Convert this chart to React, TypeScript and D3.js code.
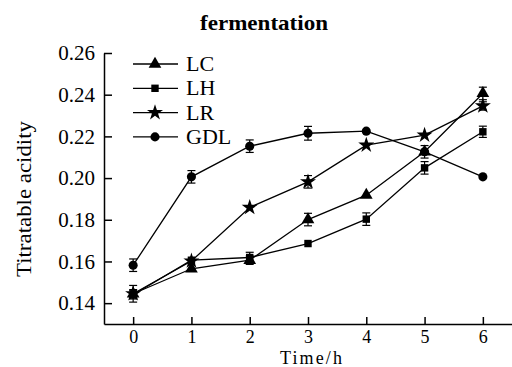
import React, { useEffect, useRef } from 'react';
import * as d3 from 'd3';

const times = [0, 1, 2, 3, 4, 5, 6];
const seriesNames = ['LC', 'LH', 'LR', 'GDL'];
const lcValues = [0.1445, 0.1565, 0.1606, 0.1801, 0.1918, 0.2126, 0.2406];
const lhValues = [0.1440, 0.1606, 0.1619, 0.1686, 0.1803, 0.2049, 0.2222];
const lrValues = [0.1445, 0.1602, 0.1859, 0.1982, 0.2158, 0.2206, 0.2346];
const gdlValues = [0.1582, 0.2006, 0.2153, 0.2215, 0.2225, 0.2126, 0.2006];
const lcErrors = [0.004, 0, 0.002, 0.003, 0, 0.003, 0.003];
const lhErrors = [0.002, 0, 0.0025, 0, 0.003, 0.003, 0.0027];
const lrErrors = [0.002, 0, 0, 0.003, 0, 0, 0.002];
const gdlErrors = [0.003, 0.003, 0.003, 0.0033, 0, 0, 0];
const yTicks = [0.14, 0.16, 0.18, 0.2, 0.22, 0.24, 0.26];

const FONT = '"Liberation Serif", "Times New Roman", serif';

const App: React.FC = () => {
  const svgRef = useRef<SVGSVGElement>(null);

  useEffect(() => {
    if (!svgRef.current) return;
    const svg = d3.select(svgRef.current);
    svg.selectAll('*').remove();

    const x = d3.scaleLinear().domain([-0.5, 6.5]).range([104, 512]);
    const y = d3.scaleLinear().domain([0.13, 0.26]).range([324, 53]);

    // Title
    svg.append('text')
      .attr('x', 264).attr('y', 30)
      .attr('text-anchor', 'middle')
      .attr('font-family', FONT).attr('font-weight', 'bold').attr('font-size', 22)
      .attr('textLength', 128).attr('lengthAdjust', 'spacingAndGlyphs')
      .text('fermentation');

    // Axes
    const yAxis = svg.append('g')
      .attr('transform', 'translate(104,0)')
      .call(d3.axisLeft(y).tickValues(yTicks).tickFormat(d3.format('.2f'))
        .tickSizeInner(-8).tickSizeOuter(0).tickPadding(9));
    yAxis.selectAll('text').attr('font-family', FONT).attr('font-size', 21).attr('fill', '#000');
    yAxis.selectAll('line, path').attr('stroke', '#000').attr('stroke-width', 1.5);

    const xAxis = svg.append('g')
      .attr('transform', 'translate(0,324)')
      .call(d3.axisBottom(x).tickValues(times).tickFormat(d3.format('d'))
        .tickSizeInner(-7).tickSizeOuter(0).tickPadding(6));
    xAxis.selectAll('text').attr('font-family', FONT).attr('font-size', 18).attr('fill', '#000');
    xAxis.selectAll('line, path').attr('stroke', '#000').attr('stroke-width', 1.5);

    svg.append('text')
      .attr('x', 311).attr('y', 364)
      .attr('text-anchor', 'middle')
      .attr('font-family', FONT).attr('font-size', 18)
      .attr('textLength', 62).attr('lengthAdjust', 'spacing')
      .text('Time/h');

    svg.append('text')
      .attr('transform', 'translate(31,199) rotate(-90)')
      .attr('text-anchor', 'middle')
      .attr('font-family', FONT).attr('font-size', 21)
      .attr('textLength', 156).attr('lengthAdjust', 'spacingAndGlyphs')
      .text('Titratable acidity');

    const symbols = [d3.symbolTriangle, d3.symbolSquare, d3.symbolStar, d3.symbolCircle];
    const sizes = [70, 55, 80, 65];
    const valueSets = [lcValues, lhValues, lrValues, gdlValues];
    const errorSets = [lcErrors, lhErrors, lrErrors, gdlErrors];

    const line = d3.line<number>()
      .x((_, i) => x(times[i]))
      .y(d => y(d));

    valueSets.forEach((vals, s) => {
      const g = svg.append('g');
      g.append('path')
        .datum(vals)
        .attr('fill', 'none').attr('stroke', '#000').attr('stroke-width', 1.3)
        .attr('d', line);

      // error bars
      vals.forEach((v, i) => {
        const e = errorSets[s][i];
        if (!e) return;
        const cx = x(times[i]);
        const y0 = y(v - e), y1 = y(v + e);
        g.append('line').attr('x1', cx).attr('x2', cx).attr('y1', y0).attr('y2', y1)
          .attr('stroke', '#000').attr('stroke-width', 1.2);
        [y0, y1].forEach(yy => {
          g.append('line').attr('x1', cx - 4).attr('x2', cx + 4).attr('y1', yy).attr('y2', yy)
            .attr('stroke', '#000').attr('stroke-width', 1.2);
        });
      });

      g.selectAll('path.mk')
        .data(vals)
        .enter().append('path')
        .attr('class', 'mk')
        .attr('transform', (d, i) => `translate(${x(times[i])},${y(d)})`)
        .attr('d', d3.symbol(symbols[s], sizes[s])())
        .attr('fill', '#000');
    });

    // Legend
    const legend = svg.append('g');
    seriesNames.forEach((name, s) => {
      const ly = 64 + s * 24.3;
      legend.append('line').attr('x1', 133).attr('x2', 178).attr('y1', ly).attr('y2', ly)
        .attr('stroke', '#000').attr('stroke-width', 1.3);
      legend.append('path')
        .attr('transform', `translate(155,${ly})`)
        .attr('d', d3.symbol(symbols[s], sizes[s])())
        .attr('fill', '#000');
      legend.append('text')
        .attr('x', 186).attr('y', ly + 7)
        .attr('font-family', FONT).attr('font-size', 22)
        .text(name);
    });
  }, []);

  return (
    <svg ref={svgRef} width={512} height={367}
      style={{ position: 'absolute', left: 0, top: 0, background: '#fff' }} />
  );
};

export default App;
